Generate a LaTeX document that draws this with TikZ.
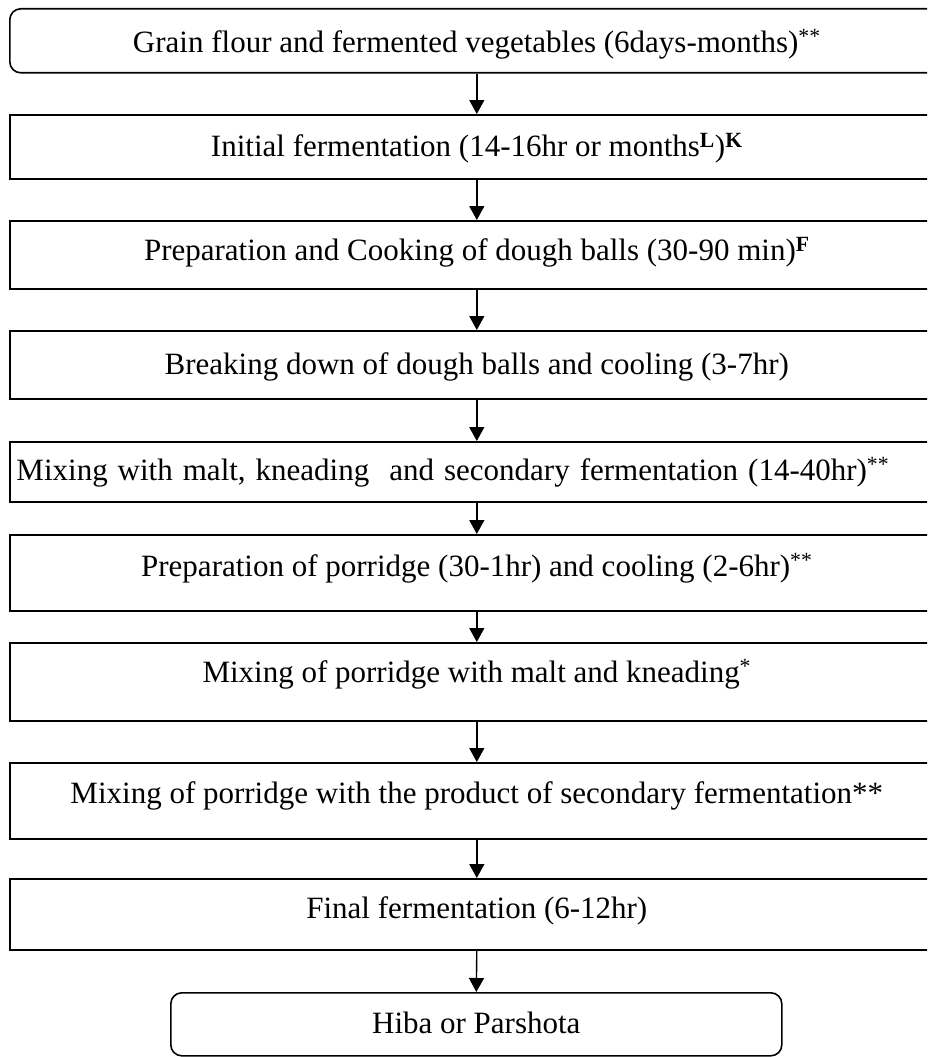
\documentclass[tikz,border=0pt]{standalone}
\usepackage{fontspec}
\setmainfont{Liberation Serif}
\usetikzlibrary{arrows.meta}
\tikzset{
  stepbox/.style={draw=black, line width=1.6pt, rectangle, anchor=north west,
    minimum width=934pt, inner ysep=0pt, inner xsep=0pt, align=center,
    font=\fontsize{31}{36}\selectfont},
  endbox/.style={stepbox, rounded corners=11pt},
  arr/.style={line width=1.4pt, -{Triangle[width=15pt,length=14pt]}}
}
\begin{document}
\begin{tikzpicture}[x=1pt,y=-1pt]
\useasboundingbox (0,0) rectangle (927,1057);
\clip (0,0) rectangle (927,1057);
\fill[white] (0,0) rectangle (927,1057);
\node[endbox, text height=44pt, text depth=20pt] (b1) at (9,8)
  {Grain flour and fermented vegetables (6days-months)\textsuperscript{**}};
\node[stepbox, text height=42pt, text depth=22pt] (b2) at (9,114)
  {Initial fermentation (14-16hr or months\textsuperscript{\textbf{L}})\textsuperscript{\textbf{K}}};
\node[stepbox, text height=40pt, text depth=28pt] (b3) at (9,220)
  {Preparation and Cooking of dough balls (30-90 min)\textsuperscript{\textbf{F}}};
\node[stepbox, text height=44pt, text depth=24pt] (b4) at (9,330)
  {Breaking down of dough balls and cooling (3-7hr)};
\node[stepbox, text height=39pt, text depth=21pt] (b5) at (9,441)
  {\hspace*{-48pt}\spaceskip=10pt plus 1pt Mixing with malt, kneading\ \ and secondary fermentation (14-40hr)\textsuperscript{**}};
\node[stepbox, text height=42pt, text depth=34pt] (b6) at (9,534)
  {Preparation of porridge (30-1hr) and cooling (2-6hr)\textsuperscript{**}};
\node[stepbox, text height=40pt, text depth=38pt] (b7) at (9,642)
  {Mixing of porridge with malt and kneading\textsuperscript{*}};
\node[stepbox, text height=41pt, text depth=35pt] (b8) at (9,762)
  {Mixing of porridge with the product of secondary fermentation**};
\node[stepbox, text height=40pt, text depth=31pt] (b9) at (9,878)
  {Final fermentation (6-12hr)};
\node[endbox, minimum width=611pt, text height=41pt, text depth=22pt] (b10) at (170,992)
  {Hiba or Parshota};
\draw[arr] (b1.south) -- (b2.north);
\draw[arr] (b2.south) -- (b3.north);
\draw[arr] (b3.south) -- (b4.north);
\draw[arr] (b4.south) -- (b5.north);
\draw[arr] (b5.south) -- (b6.north);
\draw[arr] (b6.south) -- (b7.north);
\draw[arr] (b7.south) -- (b8.north);
\draw[arr] (b8.south) -- (b9.north);
\draw[arr] (b9.south) -- (b10.north);
\end{tikzpicture}
\end{document}
